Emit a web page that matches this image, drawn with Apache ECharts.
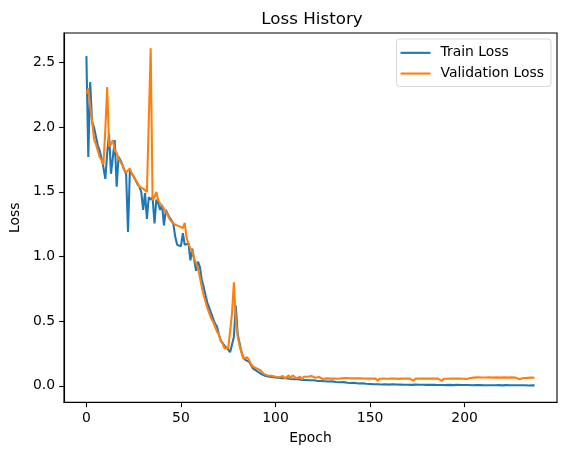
<!DOCTYPE html>
<html>
<head>
<meta charset="utf-8">
<style>
	html, body { margin: 0; padding: 0; background: #fff; }
	#chart { width: 567px; height: 455px; }
</style>
</head>
<body>
<div id="chart"></div>
<script src="https://cdn.jsdelivr.net/npm/echarts@6/dist/echarts.min.js"></script>
<script>
// losses per epoch (epoch 0..237)
var trainLoss = [
	2.55, 1.77, 2.35, 2.04, 2.00, 1.93, 1.86, 1.82, 1.76, 1.69,
	1.60, 1.80, 1.95, 1.64, 1.63, 1.90, 1.54, 1.77, 1.745, 1.71,
	1.67, 1.64, 1.19, 1.67, 1.64, 1.62, 1.59, 1.56, 1.54, 1.50,
	1.36, 1.49, 1.29, 1.46, 1.44, 1.46, 1.255, 1.44, 1.41, 1.36,
	1.40, 1.24, 1.36, 1.33, 1.30, 1.28, 1.25, 1.15, 1.09, 1.08,
	1.08, 1.18, 1.09, 1.075, 1.10, 0.97, 1.06, 1.05, 0.89, 0.96,
	0.92, 0.82, 0.765, 0.70, 0.64, 0.60, 0.56, 0.52, 0.48, 0.46,
	0.40, 0.35, 0.33, 0.31, 0.30, 0.28, 0.26, 0.275, 0.38, 0.62,
	0.40, 0.33, 0.26, 0.22, 0.20, 0.20, 0.185, 0.16, 0.135, 0.12,
	0.115, 0.11, 0.095, 0.09, 0.08, 0.075, 0.072, 0.07, 0.068, 0.066,
	0.065, 0.063, 0.060, 0.062, 0.058, 0.056, 0.058, 0.054, 0.052, 0.055,
	0.050, 0.048, 0.051, 0.047, 0.045, 0.046, 0.044, 0.047, 0.042, 0.041,
	0.043, 0.040, 0.038, 0.041, 0.037, 0.036, 0.035, 0.037, 0.033, 0.032,
	0.034, 0.030, 0.029, 0.031, 0.027, 0.026, 0.028, 0.024, 0.023, 0.025,
	0.021, 0.020, 0.022, 0.019, 0.018, 0.017, 0.019, 0.016, 0.015, 0.016,
	0.014, 0.013, 0.012, 0.013, 0.011, 0.012, 0.010, 0.011, 0.012, 0.010,
	0.009, 0.010, 0.011, 0.009, 0.010, 0.008, 0.009, 0.010, 0.008, 0.009,
	0.008, 0.009, 0.007, 0.008, 0.009, 0.007, 0.008, 0.007, 0.008, 0.006,
	0.007, 0.008, 0.007, 0.006, 0.007, 0.008, 0.006, 0.007, 0.006, 0.007,
	0.005, 0.006, 0.007, 0.006, 0.005, 0.006, 0.007, 0.005, 0.006, 0.005,
	0.006, 0.005, 0.006, 0.005, 0.004, 0.006, 0.005, 0.004, 0.005, 0.006,
	0.004, 0.005, 0.004, 0.005, 0.004, 0.005, 0.004, 0.003, 0.005, 0.004,
	0.003, 0.004, 0.005, 0.003, 0.004, 0.003, 0.004, 0.003, 0.004, 0.003,
	0.004, 0.003, 0.004, 0.003, 0.002, 0.003, 0.004, 0.003
];
var valLoss = [
	2.26, 2.30, 2.16, 2.05, 1.91, 1.87, 1.82, 1.77, 1.745, 1.71,
	1.98, 2.31, 1.85, 1.87, 1.90, 1.82, 1.80, 1.76, 1.73, 1.71,
	1.67, 1.65, 1.65, 1.68, 1.64, 1.62, 1.59, 1.57, 1.54, 1.54,
	1.525, 1.52, 1.50, 1.49, 2.61, 1.435, 1.46, 1.50, 1.435, 1.41,
	1.40, 1.37, 1.345, 1.32, 1.29, 1.27, 1.255, 1.245, 1.24, 1.235,
	1.225, 1.22, 1.26, 1.14, 1.10, 1.06, 1.04, 0.98, 0.95, 0.91,
	0.84, 0.765, 0.70, 0.65, 0.60, 0.56, 0.52, 0.495, 0.46, 0.42,
	0.40, 0.35, 0.33, 0.29, 0.275, 0.29, 0.30, 0.56, 0.80, 0.51,
	0.38, 0.31, 0.26, 0.21, 0.21, 0.22, 0.20, 0.17, 0.15, 0.135,
	0.135, 0.12, 0.12, 0.11, 0.09, 0.075, 0.08, 0.08, 0.077, 0.075,
	0.07, 0.07, 0.065, 0.057, 0.075, 0.057, 0.07, 0.08, 0.057, 0.08,
	0.07, 0.057, 0.057, 0.07, 0.05, 0.07, 0.057, 0.07, 0.06, 0.075,
	0.07, 0.062, 0.055, 0.068, 0.058, 0.052, 0.060, 0.057, 0.063, 0.055,
	0.058, 0.056, 0.060, 0.054, 0.058, 0.057, 0.055, 0.059, 0.056, 0.058,
	0.055, 0.057, 0.056, 0.058, 0.055, 0.057, 0.059, 0.056, 0.058, 0.055,
	0.057, 0.056, 0.058, 0.055, 0.038, 0.054, 0.056, 0.055, 0.057, 0.054,
	0.056, 0.055, 0.054, 0.056, 0.055, 0.053, 0.055, 0.056, 0.054, 0.055,
	0.053, 0.055, 0.054, 0.038, 0.055, 0.054, 0.056, 0.053, 0.055, 0.054,
	0.056, 0.054, 0.055, 0.053, 0.055, 0.054, 0.056, 0.055, 0.038, 0.054,
	0.055, 0.054, 0.056, 0.055, 0.053, 0.055, 0.054, 0.056, 0.055, 0.054,
	0.055, 0.053, 0.040, 0.060, 0.064, 0.063, 0.064, 0.065, 0.063, 0.064,
	0.065, 0.064, 0.063, 0.065, 0.064, 0.063, 0.064, 0.065, 0.064, 0.063,
	0.064, 0.065, 0.064, 0.063, 0.064, 0.065, 0.064, 0.063, 0.064, 0.050,
	0.040, 0.060, 0.062, 0.061, 0.062, 0.063, 0.061, 0.062
];
var xTicks = [0, 50, 100, 150, 200];
var yTicks = [0.0, 0.5, 1.0, 1.5, 2.0, 2.5];

function pairs(arr) {
	return arr.map(function (v, i) { return [i, v]; });
}

var font = 'DejaVu Sans';
var chart = echarts.init(document.getElementById('chart'), null, {renderer: 'canvas'});

option = {
	animation: false,
	backgroundColor: '#fff',
	textStyle: {fontFamily: font},
	title: {
		text: 'Loss History',
		left: 307,
		textAlign: 'center',
		top: 6,
		textStyle: {fontFamily: font, fontSize: 16.7, fontWeight: 'normal', color: '#000'}
	},
	legend: {
		orient: 'vertical',
		right: 16,
		top: 39,
		padding: [6, 7, 5, 4],
		icon: 'rect',
		itemWidth: 30,
		itemHeight: 2.1,
		itemGap: 5,
		backgroundColor: '#fff',
		borderColor: '#d6d6d6',
		borderWidth: 1,
		borderRadius: 3,
		textStyle: {fontFamily: font, fontSize: 13.9, lineHeight: 15.7, color: '#000', padding: [0, 0, 0, 5]},
		data: ['Train Loss', 'Validation Loss']
	},
	grid: {
		left: 61.7,
		right: 10,
		top: 33,
		bottom: 52.7,
		show: true,
		borderColor: '#000',
		borderWidth: 1.1,
		containLabel: false
	},
	xAxis: {
		type: 'value',
		min: -11.85,
		max: 248.85,
		name: 'Epoch',
		nameLocation: 'middle',
		nameGap: 29,
		nameTextStyle: {fontFamily: font, fontSize: 13.9, color: '#000'},
		splitLine: {show: false},
		axisLine: {show: true, onZero: false, lineStyle: {color: '#000', width: 1.1}},
		axisTick: {show: true, length: 4.9, lineStyle: {color: '#000', width: 1.1}, customValues: xTicks},
		axisLabel: {fontFamily: font, fontSize: 13.9, color: '#000', margin: 9, customValues: xTicks}
	},
	yAxis: {
		type: 'value',
		min: -0.128,
		max: 2.729,
		name: 'Loss',
		nameLocation: 'middle',
		nameGap: 36,
		nameRotate: 90,
		nameTextStyle: {fontFamily: font, fontSize: 13.9, color: '#000'},
		splitLine: {show: false},
		axisLine: {show: true, onZero: false, lineStyle: {color: '#000', width: 1.1}},
		axisTick: {show: true, length: 4.9, lineStyle: {color: '#000', width: 1.1}, customValues: yTicks},
		axisLabel: {
			fontFamily: font, fontSize: 13.9, color: '#000', margin: 9, customValues: yTicks,
			formatter: function (v) { return v.toFixed(1); }
		}
	},
	series: [{
		name: 'Train Loss',
		type: 'line',
		symbol: 'none',
		color: '#1f77b4',
		lineStyle: {width: 2.08, color: '#1f77b4'},
		data: pairs(trainLoss)
	}, {
		name: 'Validation Loss',
		type: 'line',
		symbol: 'none',
		color: '#ff7f0e',
		lineStyle: {width: 2.08, color: '#ff7f0e'},
		data: pairs(valLoss)
	}]
};
chart.setOption(option);
</script>
</body>
</html>
